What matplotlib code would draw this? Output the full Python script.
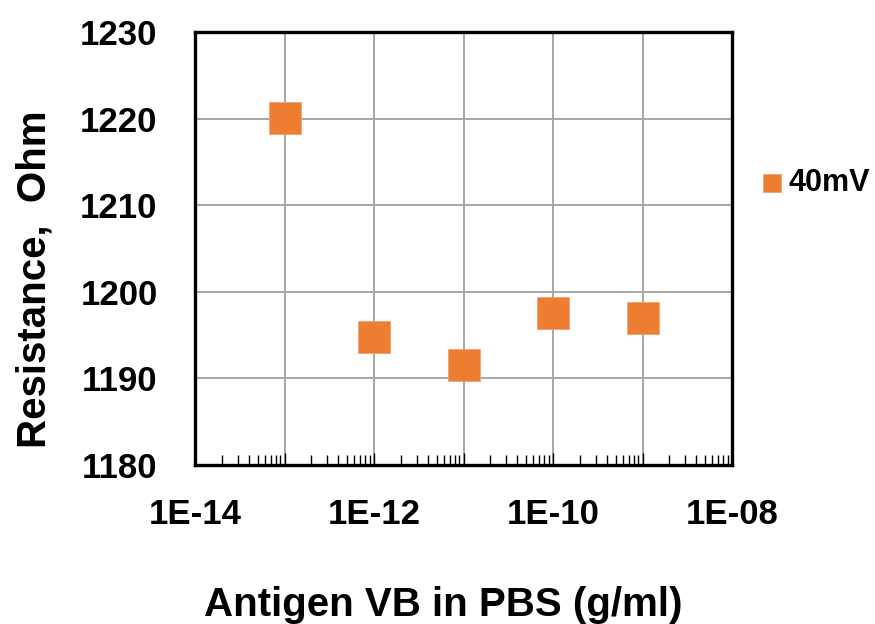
import matplotlib
matplotlib.use("Agg")
import matplotlib.pyplot as plt
from matplotlib.ticker import LogLocator, FixedLocator, NullFormatter

plt.rcParams['font.family'] = ['Liberation Sans', 'DejaVu Sans']
plt.rcParams['font.weight'] = 'bold'

# Antigen concentration (g/ml) and measured resistance (Ohm)
concentration = [1e-13, 1e-12, 1e-11, 1e-10, 1e-9]
resistance_40mV = [1220.1, 1194.8, 1191.5, 1197.6, 1197.0]
series_label = "40mV"

decades = [1e-14, 1e-13, 1e-12, 1e-11, 1e-10, 1e-9, 1e-8]
x_tick_labels = ["1E-14", "", "1E-12", "", "1E-10", "", "1E-08"]
y_tick_values = [1180, 1190, 1200, 1210, 1220, 1230]

fig = plt.figure(figsize=(8.75, 6.24), dpi=100)
ax = fig.add_axes([0.2229, 0.2548, 0.6137, 0.6939])

ax.set_xscale('log')
ax.set_xlim(1e-14, 1e-8)
ax.set_ylim(1180, 1230)

# Grid at every decade and every 10 Ohm
ax.xaxis.set_major_locator(FixedLocator(decades))
ax.xaxis.set_minor_locator(LogLocator(base=10, subs=range(2, 10), numticks=20))
ax.xaxis.set_minor_formatter(NullFormatter())
ax.set_xticks(decades)
ax.set_xticklabels(x_tick_labels)
ax.set_yticks(y_tick_values)
ax.grid(True, which='major', color='#a6a6a6', linewidth=1.4)
ax.set_axisbelow(True)

ax.scatter(concentration, resistance_40mV, marker='s', s=500,
           color='#ed7d31', edgecolors='#f4a36b', linewidths=0.6,
           label=series_label, zorder=3)

ax.tick_params(axis='x', which='major', direction='in', length=9, width=1.0,
               labelsize=25, pad=24)
ax.tick_params(axis='x', which='minor', direction='in', length=7, width=1.0)
ax.tick_params(axis='y', which='major', length=0, labelsize=25, pad=27)

for lbl in ax.get_xticklabels() + ax.get_yticklabels():
    lbl.set_fontweight('bold')

for side in ['left', 'bottom', 'top', 'right']:
    ax.spines[side].set_linewidth(2.4)
    ax.spines[side].set_color('black')

ax.set_xlabel("Antigen VB in PBS (g/ml)", fontsize=29, fontweight='bold', labelpad=39)
ax.set_ylabel("Resistance,  Ohm", fontsize=29, fontweight='bold', labelpad=19)
ax.xaxis.label.set_x(0.462)
ax.yaxis.label.set_y(0.43)

leg = fig.legend(loc='center left', bbox_to_anchor=(0.868, 0.7067), frameon=False,
                 fontsize=22, handletextpad=0.15, handlelength=0.8,
                 markerscale=0.55, borderpad=0, borderaxespad=0)
for t in leg.get_texts():
    t.set_fontweight('bold')

fig.savefig("out.png", dpi=100)
